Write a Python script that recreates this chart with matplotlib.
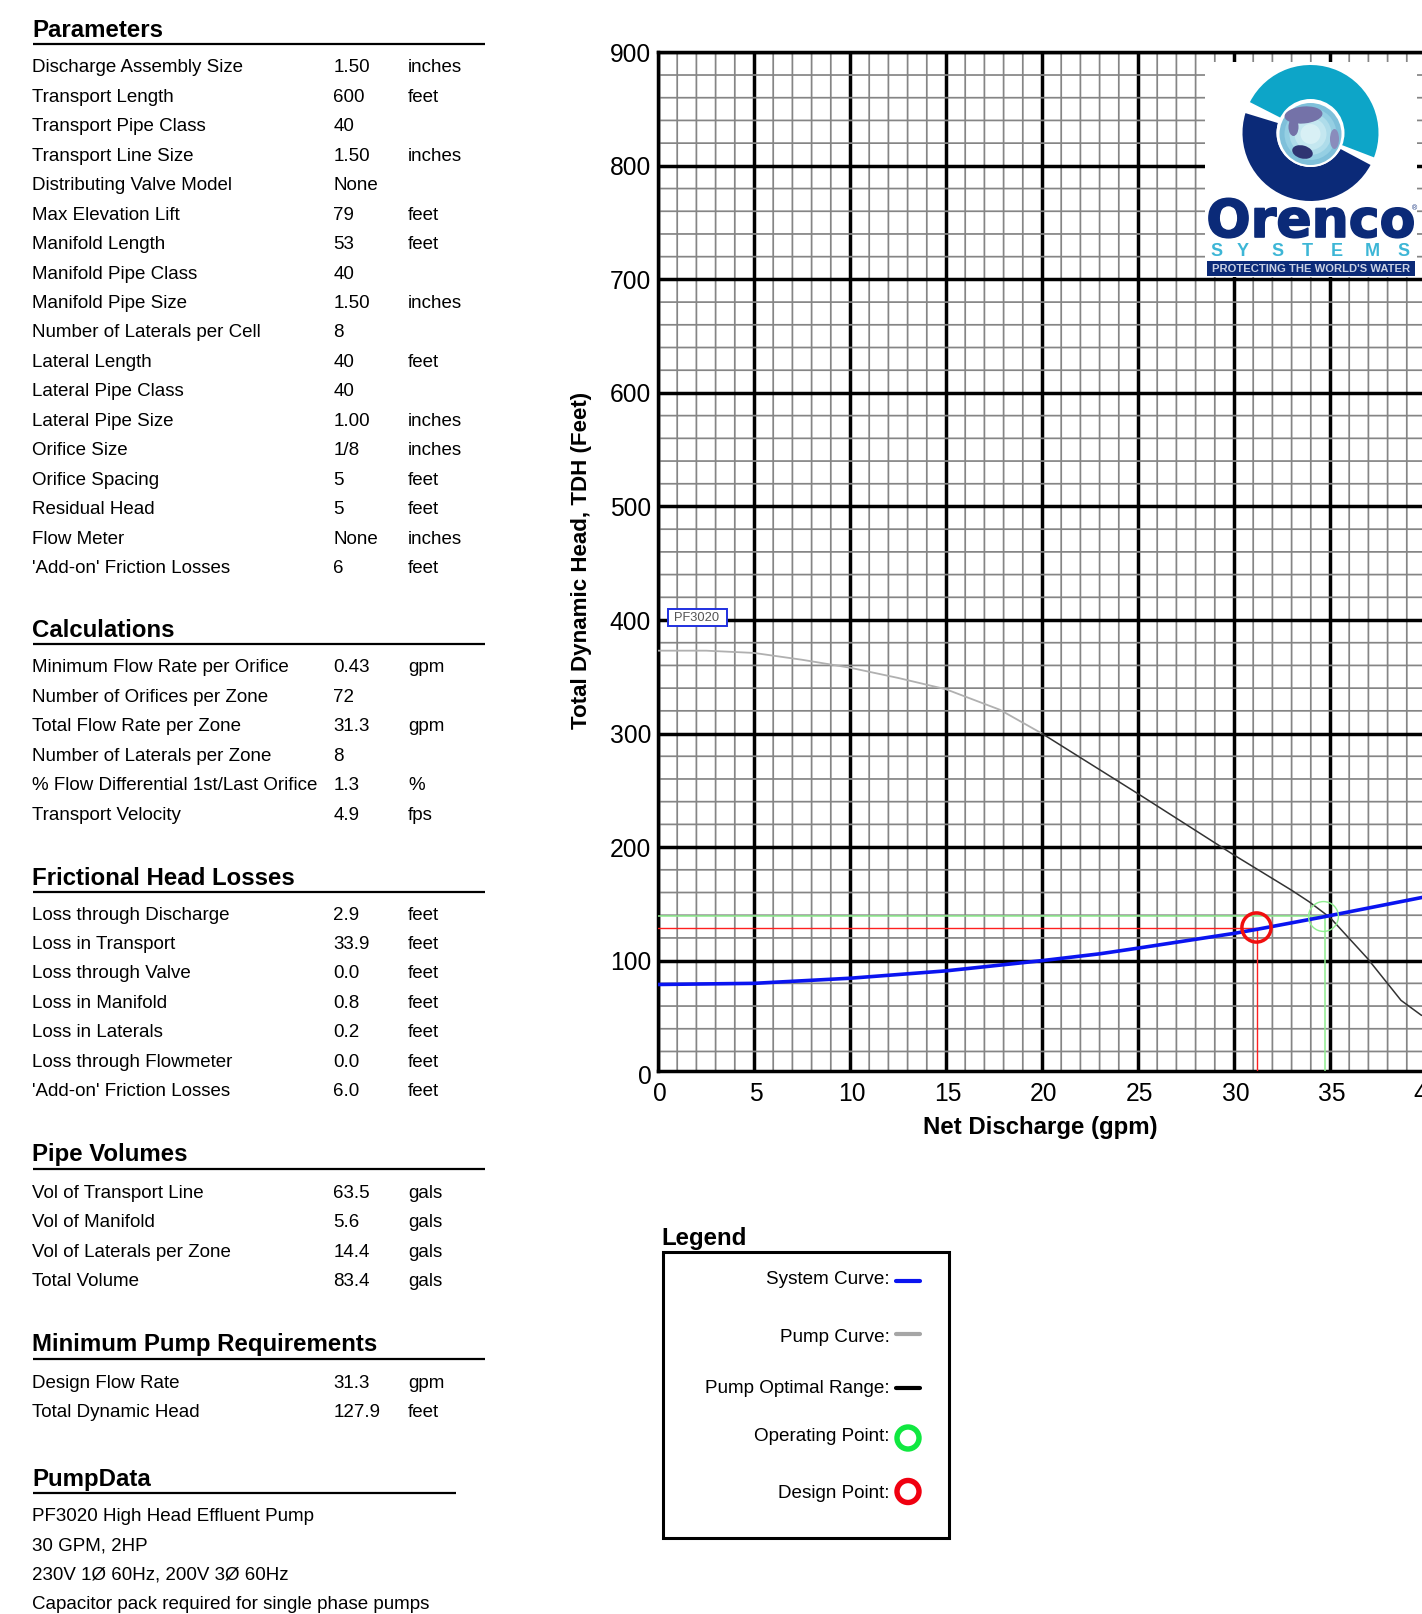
import matplotlib
matplotlib.use("Agg")
import matplotlib.pyplot as plt
import matplotlib.patheffects as pe
from matplotlib.patches import Wedge, Circle, Ellipse, Rectangle
from matplotlib.ticker import MultipleLocator
from matplotlib.transforms import ScaledTranslation

plt.rcParams['font.family'] = ['Liberation Sans', 'DejaVu Sans']

W, H = 1422, 1614

# --- tablas de la izquierda
param_labels = ["Discharge Assembly Size", "Transport Length", "Transport Pipe Class", "Transport Line Size",
                "Distributing Valve Model", "Max Elevation Lift", "Manifold Length", "Manifold Pipe Class",
                "Manifold Pipe Size", "Number of Laterals per Cell", "Lateral Length", "Lateral Pipe Class",
                "Lateral Pipe Size", "Orifice Size", "Orifice Spacing", "Residual Head", "Flow Meter",
                "'Add-on' Friction Losses"]
param_values = ["1.50", "600", "40", "1.50", "None", "79", "53", "40", "1.50", "8", "40", "40", "1.00", "1/8",
                "5", "5", "None", "6"]
param_units = ["inches", "feet", "", "inches", "", "feet", "feet", "", "inches", "", "feet", "", "inches",
               "inches", "feet", "feet", "inches", "feet"]

calc_labels = ["Minimum Flow Rate per Orifice", "Number of Orifices per Zone", "Total Flow Rate per Zone",
               "Number of Laterals per Zone", "% Flow Differential 1st/Last Orifice", "Transport Velocity"]
calc_values = ["0.43", "72", "31.3", "8", "1.3", "4.9"]
calc_units = ["gpm", "", "gpm", "", "%", "fps"]

loss_labels = ["Loss through Discharge", "Loss in Transport", "Loss through Valve", "Loss in Manifold",
               "Loss in Laterals", "Loss through Flowmeter", "'Add-on' Friction Losses"]
loss_values = ["2.9", "33.9", "0.0", "0.8", "0.2", "0.0", "6.0"]
loss_units = ["feet"] * 7

vol_labels = ["Vol of Transport Line", "Vol of Manifold", "Vol of Laterals per Zone", "Total Volume"]
vol_values = ["63.5", "5.6", "14.4", "83.4"]
vol_units = ["gals"] * 4

req_labels = ["Design Flow Rate", "Total Dynamic Head"]
req_values = ["31.3", "127.9"]
req_units = ["gpm", "feet"]

pump_lines = ["PF3020 High Head Effluent Pump", "30 GPM, 2HP", "230V 1Ø 60Hz, 200V 3Ø 60Hz",
              "Capacitor pack required for single phase pumps"]

# --- curvas
system_x = [0, 5, 10, 15, 20, 23, 25, 30, 31.3, 34.8, 39.75, 45]
system_y = [79, 80, 84.5, 91, 100, 106, 111, 124, 127.9, 139, 155.5, 175]
pump_x = [0, 2.5, 5, 7.5, 10, 12.5, 15, 17.8, 20]
pump_y = [373, 373, 371, 365, 358, 349, 339, 321, 300]
optimal_x = [20, 25, 30, 33, 33.9, 35, 36.95, 38.7, 39.75, 45]
optimal_y = [300, 247, 193, 162, 152, 138, 102, 65, 52, 20]
design_x, design_y = 31.2, 128.5
operating_x, operating_y = 34.75, 139

x_ticks = [0, 5, 10, 15, 20, 25, 30, 35, 40, 45]
y_ticks = [100, 200, 300, 400, 500, 600, 700, 800, 900]

legend_labels = ["System Curve:", "Pump Curve:", "Pump Optimal Range:", "Operating Point:", "Design Point:"]

fig = plt.figure(figsize=(W / 100, H / 100), dpi=100)

# --- grafica principal, sigue mas alla del borde derecho como en el original
left, right, top, bottom = 658, 658 + 45 * 19.2, 52.3, 1071
ax = fig.add_axes([left / W, 1 - bottom / H, (right - left) / W, (bottom - top) / H])
ax.set_xlim(0, 45)
ax.set_ylim(2.8, 900)
ax.set_xticks(x_ticks)
ax.set_yticks(y_ticks)
ax.xaxis.set_minor_locator(MultipleLocator(1))
ax.yaxis.set_minor_locator(MultipleLocator(20))
ax.tick_params(which='both', length=0)
ax.tick_params(axis='both', labelsize=17.7)
ax.tick_params(axis='x', pad=8)
ax.tick_params(axis='y', pad=5)
ax.grid(which='minor', color='#858585', lw=1.25)
ax.grid(which='major', color='black', lw=2.5)
ax.set_axisbelow(True)
for tick in ax.xaxis.get_minor_ticks() + ax.yaxis.get_minor_ticks():
    tick.gridline.set_snap(False)
for s in ax.spines.values():
    s.set_linewidth(2.5)
for lab in ax.get_xticklabels():
    lab.set_transform(lab.get_transform() + ScaledTranslation(1.5 / 100, 0, fig.dpi_scale_trans))
ax.text(-0.35, -2.5, "0", ha='right', va='center', fontsize=17.7, clip_on=False)

ax.plot(pump_x, pump_y, color='#b0b0b0', lw=1.3, zorder=3)
ax.plot(optimal_x, optimal_y, color='#333333', lw=1.1, zorder=3)
ax.plot([0, operating_x, operating_x], [operating_y, operating_y, 0], color='#8fee8f', lw=1.1, zorder=3)
ax.plot([0, design_x, design_x], [design_y, design_y, 0], color='#ff2020', lw=1.0, zorder=3)
ax.plot(system_x, system_y, color='#0a14f0', lw=2.6, zorder=4)
ax.plot([operating_x - 0.1], [operating_y], 'o', mfc='none', mec='#8fee8f', ms=21.5, mew=1.0, zorder=5)
ax.plot([design_x - 0.05], [design_y + 1], 'o', mfc='none', mec='#f01010', ms=21, mew=2.5, zorder=5)
ax.add_patch(Rectangle((0.52, 394.8), 3.07, 15, fc='white', ec='#2030e0', lw=1.4, zorder=6))
ax.text(2.0, 401.5, "PF3020", fontsize=9.3, color='#555555', ha='center', va='center', zorder=7)

# --- capa en pixeles para texto, logo y leyenda
ov = fig.add_axes([0, 0, 1, 1], zorder=10)
ov.set_xlim(0, W)
ov.set_ylim(H, 0)
ov.axis('off')


def section(title, head_y, line_y, first_y, labels, values=None, units=None, line_end=485):
    ov.text(32.4, head_y, title, fontsize=17.3, fontweight='bold', va='baseline')
    ov.plot([32.5, line_end], [line_y, line_y], color='black', lw=1.6, solid_capstyle='butt')
    for i, lab in enumerate(labels):
        y = first_y + i * 29.44
        ov.text(32.4, y, lab, fontsize=13.5, va='baseline')
        if values:
            ov.text(333.5, y, values[i], fontsize=13.5, va='baseline')
            ov.text(408, y, units[i], fontsize=13.5, va='baseline')


section("Parameters", 37, 44, 72.5, param_labels, param_values, param_units)
section("Calculations", 637, 644, 672.5, calc_labels, calc_values, calc_units)
section("Frictional Head Losses", 885, 892, 919.5, loss_labels, loss_values, loss_units)
section("Pipe Volumes", 1161, 1169, 1198, vol_labels, vol_values, vol_units)
section("Minimum Pump Requirements", 1351, 1359, 1388, req_labels, req_values, req_units)
section("PumpData", 1486, 1493, 1521, pump_lines, line_end=456)

# ejes: titulos
ov.text(1040.5, 1134, "Net Discharge (gpm)", fontsize=17.3, fontweight='bold', ha='center', va='baseline')
ov.text(581, 560, "Total Dynamic Head, TDH (Feet)", fontsize=16.1, fontweight='bold', rotation=90,
        ha='center', va='center')

# leyenda
ov.text(661.5, 1244.5, "Legend", fontsize=17.3, fontweight='bold', va='baseline')
ov.add_patch(Rectangle((662.5, 1252), 286, 286, fc='white', ec='black', lw=2.2))
for lab, y in zip(legend_labels, [1284, 1342, 1393, 1441, 1498]):
    ov.text(890, y, lab, fontsize=13.6, ha='right', va='baseline')
ov.plot([896, 920], [1281, 1281], color='#0a14f0', lw=3, solid_capstyle='round')
ov.plot([896, 920], [1334, 1334], color='#a6a6a6', lw=3, solid_capstyle='round')
ov.plot([896, 920], [1387.5, 1387.5], color='black', lw=3, solid_capstyle='round')
ov.add_patch(Circle((908, 1438), 11, fc='white', ec='#10e840', lw=3.9))
ov.add_patch(Circle((908, 1491.5), 11, fc='white', ec='#f00010', lw=3.9))

# logo
navy = '#0b2a78'
teal = '#0da5c8'
ov.add_patch(Rectangle((1205, 62), 212, 215, fc='white', ec='none'))
cx, cy = 1310.5, 133
ov.add_patch(Wedge((cx, cy), 68, -153, 21, width=38, fc=teal, ec='none'))
ov.add_patch(Wedge((cx, cy), 68, 28, 197, width=34, fc=navy, ec='none'))
ov.add_patch(Circle((cx, cy), 34, fc='white', ec='none'))
for r, c in zip([31, 26, 21, 16, 10], ['#7fc0da', '#95cfe3', '#aedcea', '#c4e7f0', '#d8f0f5']):
    ov.add_patch(Circle((cx, cy + 1), r, fc=c, ec='none'))
ov.add_patch(Ellipse((cx - 7, cy - 18), 38, 17, angle=-5, fc='#7472a8', ec='none'))
ov.add_patch(Ellipse((cx - 17, cy - 6), 10, 18, fc='#7472a8', ec='none'))
ov.add_patch(Ellipse((cx - 8, cy + 19), 21, 13, angle=15, fc='#2f3472', ec='none'))
ov.add_patch(Ellipse((cx + 24, cy + 6), 9, 20, fc='#8a8cbc', ec='none'))

t = ov.text(1311, 237, "Orenco", fontsize=37.5, fontweight='bold', color=navy, ha='center', va='baseline',
            family='DejaVu Sans')
t.set_path_effects([pe.withStroke(linewidth=1.2, foreground=navy)])
ov.text(1414, 209, "®", fontsize=5, color=navy, ha='center', va='center')
for letter, x in zip("SYSTEMS", [1217, 1243, 1278, 1307, 1337, 1372, 1404]):
    ov.text(x, 256, letter, fontsize=13, fontweight='bold', color='#3db6d6', ha='center', va='baseline')
ov.add_patch(Rectangle((1207, 261), 208, 15, fc=navy, ec='none'))
ov.text(1311, 268.7, "PROTECTING THE WORLD'S WATER", fontsize=8.1, fontweight='bold', color='#c8d0e4',
        ha='center', va='center')

fig.savefig("out.png", dpi=100)
